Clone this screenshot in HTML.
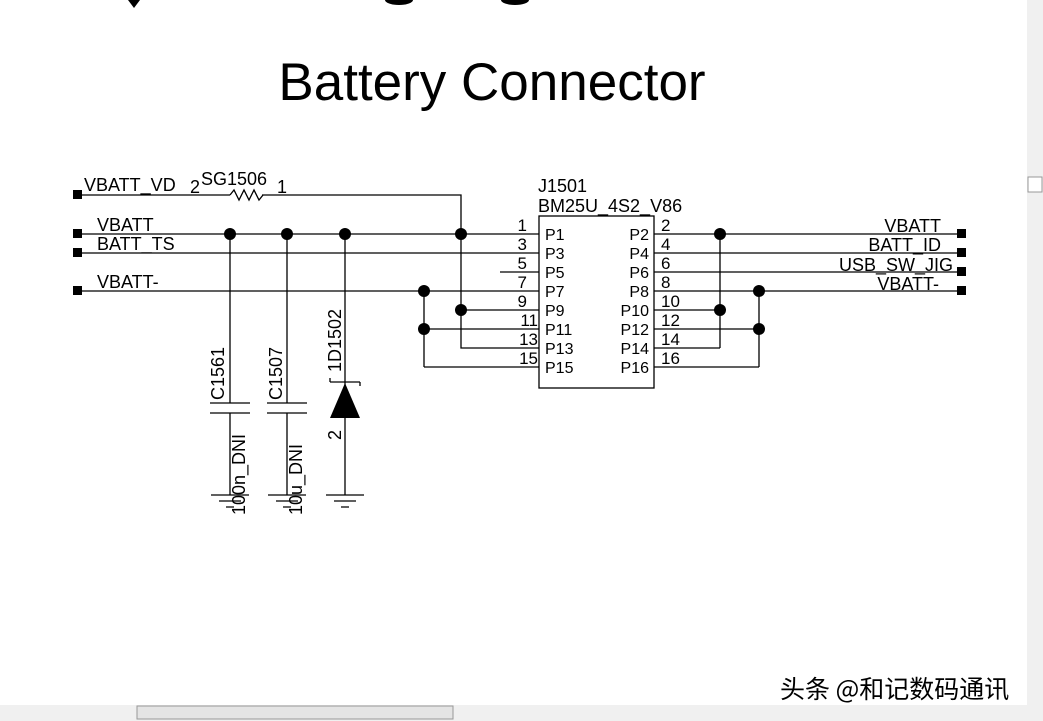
<!DOCTYPE html>
<html><head><style>
body{margin:0;width:1043px;height:721px;overflow:hidden;background:#fff;font-family:"Liberation Sans","Noto Sans CJK SC",sans-serif}
</style></head><body>
<svg width="1043" height="721" xmlns="http://www.w3.org/2000/svg" style="position:absolute;left:0;top:0">
<g fill="#000">
<path d="M128 0h12l-6 8z"/>
<ellipse cx="399" cy="0" rx="14" ry="5"/>
<ellipse cx="515" cy="0" rx="14" ry="5"/>
</g>
<text x="492" y="100" font-size="53" text-anchor="middle" font-family="Liberation Sans">Battery Connector</text>
<g stroke="#000" stroke-width="1.3" fill="none">
<path d="M78 195H230M262 195H461V348H539"/>
<path d="M230 195l4-5l5 10l5-10l5 10l5-10l5 10l4-5"/>
<path d="M78 234H539M78 253H539M500 272H539M78 291H539M461 310H539M424 329H539M424 367H539M424 291V367"/>
<path d="M654 234H961M654 253H961M654 272H961M654 291H961M654 310H720M654 329H759M654 348H720M654 367H759M720 234V348M759 291V367"/>
<path d="M230 234V403M230 413V495M210 403H250M210 413H250"/>
<path d="M287 234V403M287 413V495M267 403H307M267 413H307"/>
<path d="M345 234V495"/>
<path d="M330 382H360M330 382v-4M360 382v4"/>
<path d="M211 495H249M219 501H241M226 507H234"/>
<path d="M268 495H306M276 501H298M283 507H291"/>
<path d="M326 495H364M334 501H356M341 507H349"/>
<rect x="539" y="216" width="115" height="172"/>
</g>
<path d="M345 383L330 418H360Z" fill="#000"/>
<g fill="#000">
<rect x="73" y="190" width="9" height="9"/><rect x="73" y="229" width="9" height="9"/><rect x="73" y="248" width="9" height="9"/><rect x="73" y="286" width="9" height="9"/>
<rect x="957" y="229" width="9" height="9"/><rect x="957" y="248" width="9" height="9"/><rect x="957" y="267" width="9" height="9"/><rect x="957" y="286" width="9" height="9"/>
<circle cx="230" cy="234" r="6"/><circle cx="287" cy="234" r="6"/><circle cx="345" cy="234" r="6"/><circle cx="461" cy="234" r="6"/>
<circle cx="424" cy="291" r="6"/><circle cx="461" cy="310" r="6"/><circle cx="424" cy="329" r="6"/>
<circle cx="720" cy="234" r="6"/><circle cx="720" cy="310" r="6"/><circle cx="759" cy="291" r="6"/><circle cx="759" cy="329" r="6"/>
</g>
<g font-size="18" font-family="Liberation Sans">
<text x="84" y="191">VBATT_VD</text>
<text x="190" y="193">2</text><text x="201" y="185">SG1506</text><text x="277" y="193">1</text>
<text x="97" y="231">VBATT</text><text x="97" y="250">BATT_TS</text><text x="97" y="288">VBATT-</text>
<text x="538" y="192">J1501</text><text x="538" y="212">BM25U_4S2_V86</text>
<g text-anchor="end"><text x="941" y="232">VBATT</text><text x="941" y="251">BATT_ID</text><text x="953" y="271">USB_SW_JIG</text><text x="939" y="290">VBATT-</text></g>
<g font-size="17">
<text x="527" y="231" text-anchor="end">1</text><text x="527" y="250" text-anchor="end">3</text><text x="527" y="269" text-anchor="end">5</text><text x="527" y="288" text-anchor="end">7</text><text x="527" y="307" text-anchor="end">9</text><text x="538" y="326" text-anchor="end">11</text><text x="538" y="345" text-anchor="end">13</text><text x="538" y="364" text-anchor="end">15</text>
<text x="661" y="231">2</text><text x="661" y="250">4</text><text x="661" y="269">6</text><text x="661" y="288">8</text><text x="661" y="307">10</text><text x="661" y="326">12</text><text x="661" y="345">14</text><text x="661" y="364">16</text>
</g>
<g font-size="16">
<text x="545" y="240">P1</text><text x="545" y="259">P3</text><text x="545" y="278">P5</text><text x="545" y="297">P7</text><text x="545" y="316">P9</text><text x="545" y="335">P11</text><text x="545" y="354">P13</text><text x="545" y="373">P15</text>
<g text-anchor="end"><text x="649" y="240">P2</text><text x="649" y="259">P4</text><text x="649" y="278">P6</text><text x="649" y="297">P8</text><text x="649" y="316">P10</text><text x="649" y="335">P12</text><text x="649" y="354">P14</text><text x="649" y="373">P16</text></g>
</g>
<text transform="translate(224,400) rotate(-90)">C1561</text>
<text transform="translate(282,400) rotate(-90)">C1507</text>
<text transform="translate(341,372) rotate(-90)">1D1502</text>
<text transform="translate(341,440) rotate(-90)">2</text>
<text transform="translate(245,515) rotate(-90)">100n_DNI</text>
<text transform="translate(302,515) rotate(-90)">10u_DNI</text>
</g>
<text x="780" y="698" font-size="25" font-family="Noto Sans CJK SC,sans-serif" fill="#000">头条 @和记数码通讯</text>
<rect x="1027" y="0" width="16" height="721" fill="#f0f0f0"/>
<rect x="1028" y="177" width="14" height="15" fill="#fff" stroke="#999"/>
<rect x="0" y="705" width="1043" height="16" fill="#f0f0f0"/>
<rect x="137" y="706" width="316" height="13" fill="#e4e4e4" stroke="#999"/>
</svg>
</body></html>
